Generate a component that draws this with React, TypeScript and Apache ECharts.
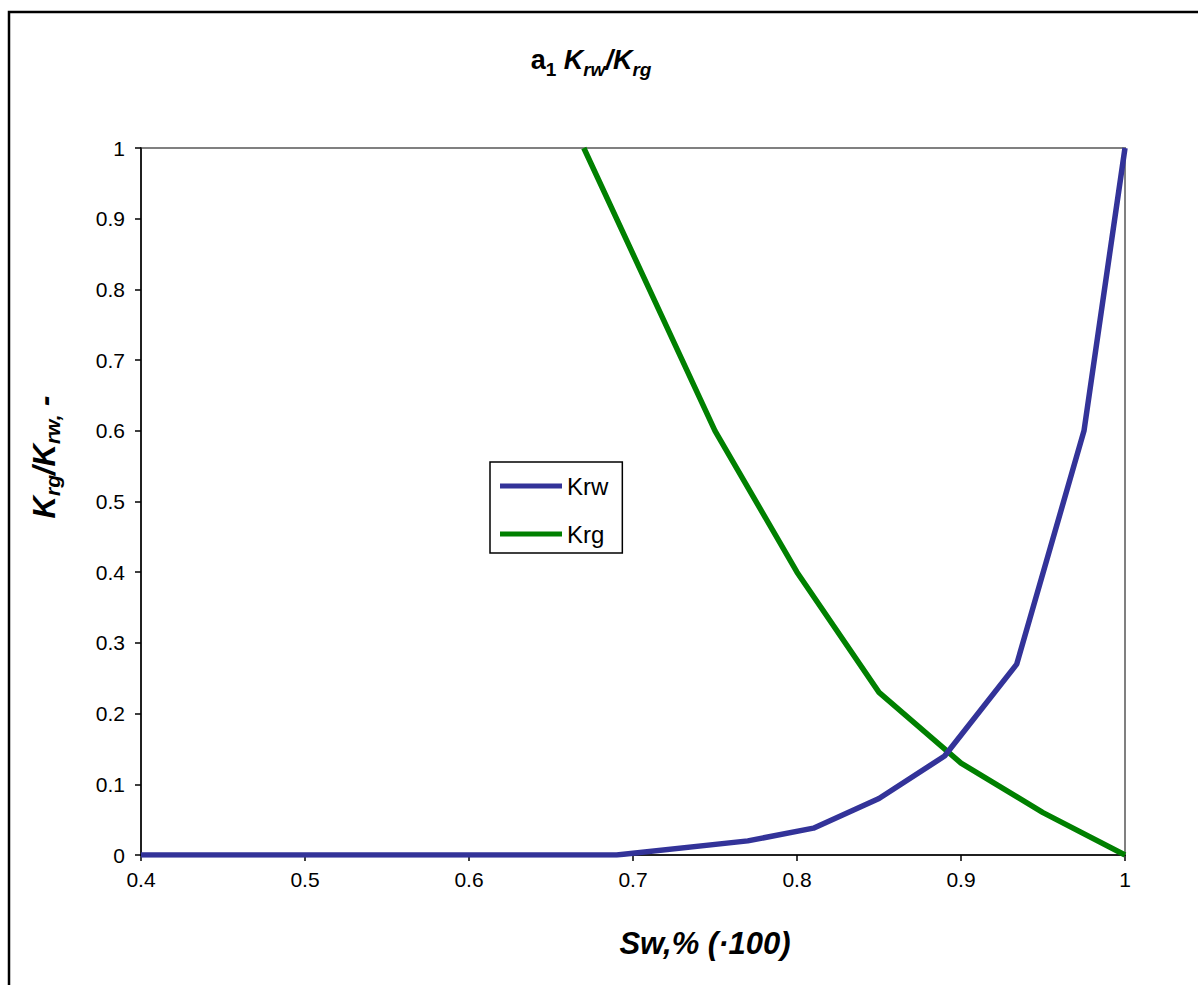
import React, { useEffect, useRef } from "react";
import * as echarts from "echarts";

const krwX = [0.4, 0.69, 0.77, 0.81, 0.85, 0.89, 0.934, 0.975, 1.0];
const krwY = [0, 0, 0.02, 0.038, 0.08, 0.14, 0.27, 0.6, 1.0];
const krgX = [0.67, 0.75, 0.8, 0.85, 0.9, 0.95, 1.0];
const krgY = [1.0, 0.6, 0.4, 0.23, 0.13, 0.06, 0];
const seriesNames = ["Krw", "Krg"];

const FONT = "Liberation Sans, Arial, sans-serif";

export default function App() {
  const ref = useRef<HTMLDivElement>(null);
  useEffect(() => {
    if (!ref.current) return;
    const chart = echarts.init(ref.current, undefined, { renderer: "svg" });
    const mk = (size: number, italic: boolean) => ({
      fontSize: size,
      fontWeight: "bold",
      fontStyle: italic ? "italic" : "normal",
      fontFamily: FONT,
      color: "#000",
      lineHeight: 38,
      verticalAlign: "middle",
    });
    const mks = (size: number, italic: boolean) => ({
      fontSize: size,
      fontWeight: "bold",
      fontStyle: italic ? "italic" : "normal",
      fontFamily: FONT,
      color: "#000",
      lineHeight: 38,
      verticalAlign: "bottom",
    });
    chart.setOption({
      animation: false,
      backgroundColor: "#fff",
      grid: {
        left: 141,
        top: 148,
        right: 73,
        bottom: 130,
        show: true,
        borderColor: "#808080",
        borderWidth: 2,
        containLabel: false,
      },
      legend: {
        orient: "vertical",
        left: 490,
        top: 462,
        data: seriesNames,
        icon: "rect",
        borderColor: "#000",
        borderWidth: 1.5,
        padding: [12, 14, 7, 10],
        itemWidth: 62,
        itemHeight: 5,
        itemGap: 24,
        textStyle: { fontSize: 24, fontFamily: FONT, color: "#000" },
      },
      xAxis: {
        type: "value",
        min: 0.4,
        max: 1,
        interval: 0.1,
        axisLine: { lineStyle: { color: "#000", width: 1.5 } },
        axisTick: { show: true, length: 6, lineStyle: { color: "#000", width: 1.5 } },
        axisLabel: {
          fontSize: 21,
          fontFamily: FONT,
          color: "#000",
          margin: 14,
          formatter: (v: number) => String(+v.toFixed(1)),
        },
        splitLine: { show: false },
      },
      yAxis: {
        type: "value",
        min: 0,
        max: 1,
        interval: 0.1,
        axisLine: { show: true, lineStyle: { color: "#000", width: 1.5 } },
        axisTick: { show: true, length: 6, lineStyle: { color: "#000", width: 1.5 } },
        axisLabel: {
          fontSize: 21,
          fontFamily: FONT,
          color: "#000",
          margin: 16,
          formatter: (v: number) => String(+v.toFixed(1)),
        },
        splitLine: { show: false },
      },
      series: [
        {
          name: seriesNames[0],
          type: "line",
          data: krwX.map((x, i) => [x, krwY[i]]),
          showSymbol: false,
          symbol: "none",
          lineStyle: { color: "#333399", width: 5.5 },
          itemStyle: { color: "#333399" },
          z: 3,
        },
        {
          name: seriesNames[1],
          type: "line",
          data: krgX.map((x, i) => [x, krgY[i]]),
          showSymbol: false,
          symbol: "none",
          lineStyle: { color: "#008000", width: 5.5 },
          itemStyle: { color: "#008000" },
          z: 2,
        },
      ],
      graphic: [
        {
          type: "rect",
          shape: { x: 9, y: 12, width: 1300, height: 1100 },
          style: { fill: "none", stroke: "#000", lineWidth: 2.5 },
          silent: true,
        },
        {
          type: "text",
          x: 591,
          y: 60,
          style: {
            text: "{a|a}{as|1}{k| K}{ks|rw}{k|/K}{ks|rg}",
            align: "center",
            verticalAlign: "middle",
            rich: {
              a: mk(27, false),
              as: mks(19, false),
              k: mk(27, true),
              ks: mks(19, true),
            },
          },
        },
        {
          type: "text",
          x: 44,
          y: 457,
          rotation: Math.PI / 2,
          style: {
            text: "{k|K}{ks|rg}{k|/K}{ks|rw,}{k| -}",
            align: "center",
            verticalAlign: "middle",
            rich: { k: mk(31, true), ks: mks(21, true) },
          },
        },
        {
          type: "text",
          x: 705,
          y: 943,
          style: {
            text: "Sw,% (·100)",
            align: "center",
            verticalAlign: "middle",
            font: `italic bold 31px ${FONT}`,
            fill: "#000",
          },
        },
      ],
    });
    return () => chart.dispose();
  }, []);
  return <div ref={ref} style={{ width: 1198, height: 985, position: "absolute", left: 0, top: 0 }} />;
}
